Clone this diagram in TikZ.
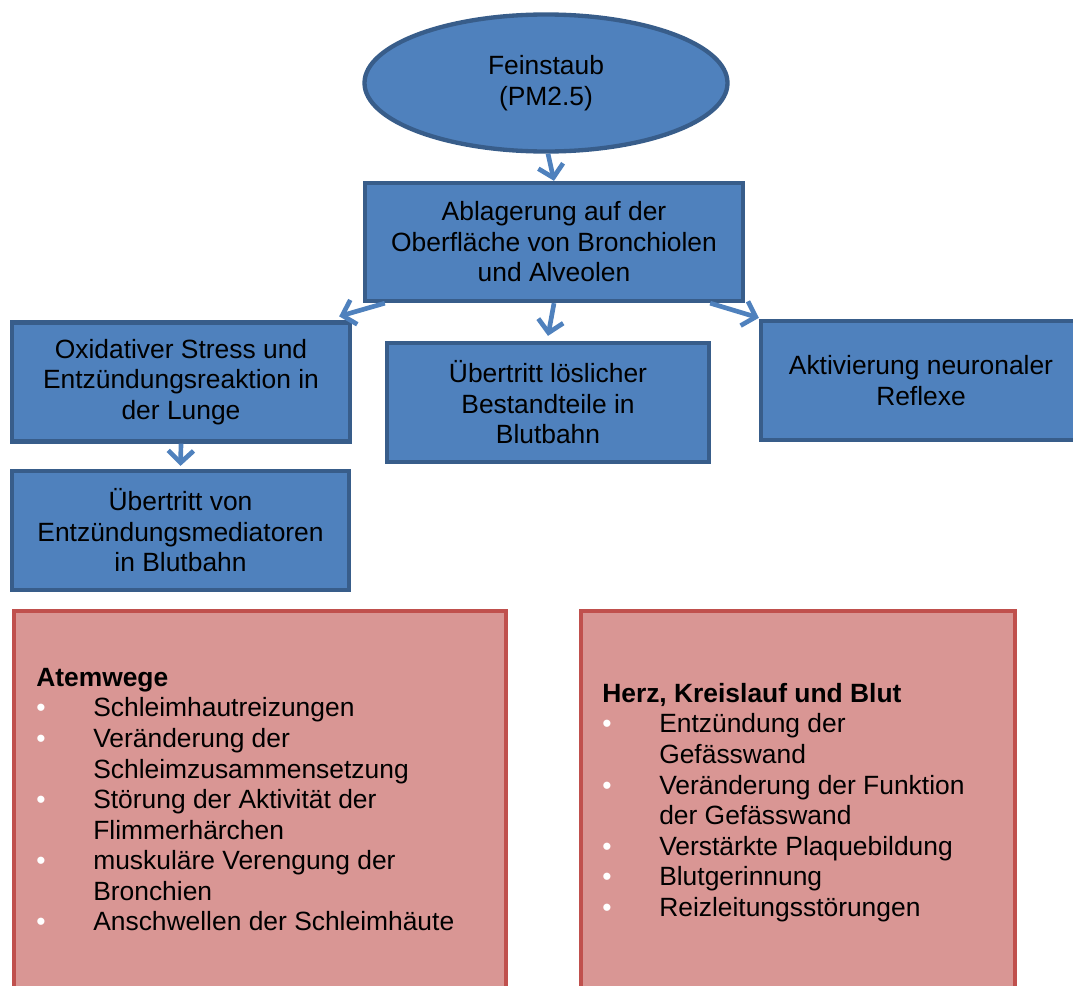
\documentclass[tikz,border=0pt]{standalone}
\usepackage{fontspec}
\setmainfont{Liberation Sans}
\usepackage{xcolor}
\usetikzlibrary{shapes.geometric,arrows.meta}
\definecolor{boxblue}{HTML}{4F81BD}
\definecolor{boxblueline}{HTML}{385D8A}
\definecolor{boxred}{HTML}{D99694}
\definecolor{boxredline}{HTML}{C0504D}
\newcommand{\listbullet}{\makebox[42.75pt][l]{\textcolor{white}{\textbullet}}}
\newcommand{\listindent}{\hspace*{42.75pt}}
\tikzset{
    every node/.style = {font=\fontsize{19.8}{22.9}\selectfont},
    blue-box/.style = {draw=boxblueline, fill=boxblue, line width=3.25pt, rectangle, align=center, inner sep=0pt},
    blue-ellipse/.style = {draw=boxblueline, fill=boxblue, line width=3.25pt, ellipse, align=center, inner sep=0pt},
    red-box/.style = {draw=boxredline, fill=boxred, line width=3pt, rectangle, anchor=north west, inner sep=0pt},
    list-text/.style = {anchor=north west, inner sep=0pt, align=left},
    flow-arrow/.style = {draw=boxblue, line width=3.5pt, -{Straight Barb[length=9pt, width=19pt]}},
}

\begin{document}
\begin{tikzpicture}[x=1pt, y=1pt]
\useasboundingbox (0,0) rectangle (804.75,-738.75);

\node [blue-ellipse, minimum width=272.25pt, minimum height=102.75pt] (dust) at (409.5,-62.25) {\raisebox{-2.5pt}{Feinstaub}\\\raisebox{-2.5pt}{(PM2.5)}};
\node [blue-box, minimum width=283.5pt, minimum height=88.5pt] (deposit) at (415.5,-181.5) {Ablagerung auf der\\Oberfläche von Bronchiolen\\und Alveolen};
\node [blue-box, minimum width=253.5pt, minimum height=89.25pt] (stress) at (135.75,-286.5) {Oxidativer Stress und\\Entzündungsreaktion in\\der Lunge};
\node [blue-box, minimum width=241.5pt, minimum height=89.25pt] (soluble) at (411,-301.9) {Übertritt löslicher\\Bestandteile in\\Blutbahn};
\node [blue-box, minimum width=240pt, minimum height=89.25pt] (reflex) at (690.75,-285.4) {Aktivierung neuronaler\\Reflexe};
\node [blue-box, minimum width=252.75pt, minimum height=89.25pt] (mediator) at (135.4,-397.9) {Übertritt von\\Entzündungsmediatoren\\in Blutbahn};

\draw [flow-arrow] ([xshift=1.5pt]dust.south) -- (deposit.north);
\draw [flow-arrow] ([xshift=16.5pt]deposit.south west) -- ([xshift=-9.75pt, yshift=3pt]stress.north east);
\draw [flow-arrow] (deposit.south) -- ([yshift=3.75pt]soluble.north);
\draw [flow-arrow] ([xshift=-26.25pt]deposit.south east) -- ([yshift=0.75pt]reflex.north west);
\draw [flow-arrow] (stress.south) -- ([yshift=2.25pt]mediator.north);

\node [red-box, minimum width=369pt, minimum height=293.25pt] (airways) at (9,-456.75) {};
\node [red-box, minimum width=325.5pt, minimum height=293.25pt] (heart) at (434.25,-456.75) {};

\node [list-text] (airways-list) at (27,-501) {\textbf{Atemwege}\\
\listbullet Schleimhautreizungen\\
\listbullet Veränderung der\\
\listindent Schleimzusammensetzung\\
\listbullet Störung der Aktivität der\\
\listindent Flimmerhärchen\\
\listbullet muskuläre Verengung der\\
\listindent Bronchien\\
\listbullet Anschwellen der Schleimhäute};
\node [list-text] (heart-list) at (451.5,-512.25) {\textbf{Herz, Kreislauf und Blut}\\
\listbullet Entzündung der\\
\listindent Gefässwand\\
\listbullet Veränderung der Funktion\\
\listindent der Gefässwand\\
\listbullet Verstärkte Plaquebildung\\
\listbullet Blutgerinnung\\
\listbullet Reizleitungsstörungen};
\end{tikzpicture}
\end{document}
